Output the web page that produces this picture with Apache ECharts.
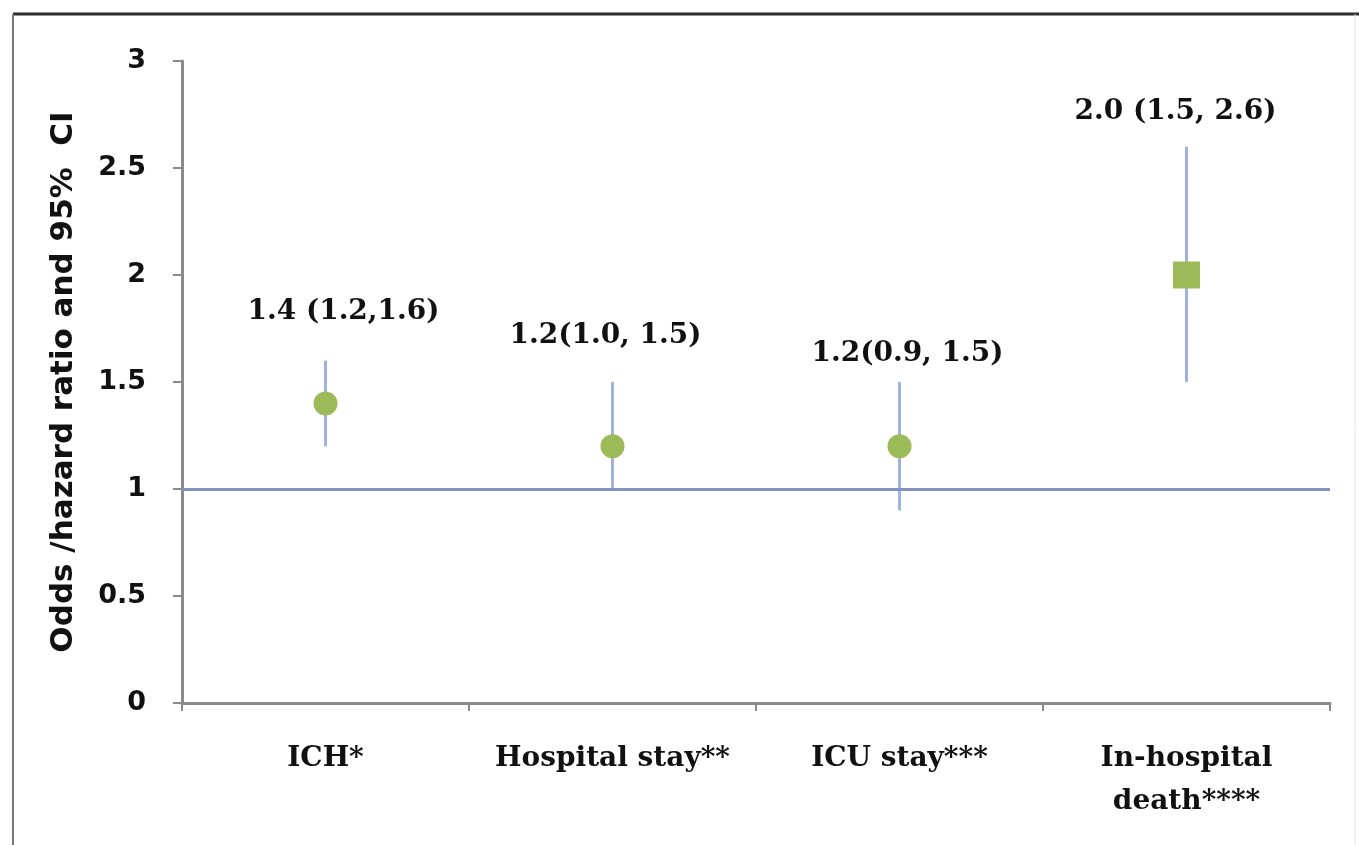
<!DOCTYPE html>
<html>
<head>
<meta charset="utf-8">
<script src="https://cdn.jsdelivr.net/npm/echarts@6/dist/echarts.min.js"></script>
<style>
  html, body { margin: 0; padding: 0; background: #fff; }
  #chart { width: 1359px; height: 845px; }
</style>
</head>
<body>
<div id="chart"></div>
<script>
// categories on the x axis
const categories = ['ICH*', 'Hospital stay**', 'ICU stay***', 'In-hospital\ndeath****'];
// point estimates with 95% CI
const estimates = [1.4, 1.2, 1.2, 2.0];
const lower = [1.2, 1.0, 0.9, 1.5];
const upper = [1.6, 1.5, 1.5, 2.6];
const pointLabels = ['1.4 (1.2,1.6)', '1.2(1.0, 1.5)', '1.2(0.9, 1.5)', '2.0 (1.5, 2.6)'];
const markerShapes = ['circle', 'circle', 'circle', 'rect'];
const refValue = 1;
const yTicks = [0, 0.5, 1, 1.5, 2, 2.5, 3];

// label nudges (px) - the annotations were hand placed in the original
const labelOffsets = [[18, -92], [-7, -110], [8, -92], [-11, -163]];

const serif = 'DejaVu Serif';
const sans = 'DejaVu Sans';

const chart = echarts.init(document.getElementById('chart'));

const errData = categories.map((c, i) => [i, lower[i], upper[i]]);
const pointData = categories.map((c, i) => ({
  value: [i, estimates[i]],
  symbol: markerShapes[i],
  symbolSize: markerShapes[i] === 'rect' ? 27 : 24,
  label: { offset: labelOffsets[i] }
}));

chart.setOption({
  animation: false,
  backgroundColor: '#fff',
  grid: { left: 182, right: 29, top: 61, bottom: 142 },
  graphic: [
    { type: 'line', shape: { x1: 13, y1: 14, x2: 1359, y2: 14 }, style: { stroke: '#2b2b2b', lineWidth: 3 } },
    { type: 'line', shape: { x1: 13, y1: 14, x2: 13, y2: 845 }, style: { stroke: '#777', lineWidth: 2 } },
    { type: 'line', shape: { x1: 1355, y1: 14, x2: 1355, y2: 845 }, style: { stroke: '#e4e4e4', lineWidth: 1 } }
  ],
  xAxis: {
    type: 'category',
    data: categories,
    boundaryGap: true,
    axisLine: { lineStyle: { color: '#8a8a8a', width: 3 } },
    axisTick: { show: true, length: 8, lineStyle: { color: '#8a8a8a', width: 2 } },
    axisLabel: {
      color: '#111', fontFamily: serif, fontWeight: 'bold', fontSize: 28,
      margin: 34, lineHeight: 43, interval: 0
    },
    splitLine: { show: false }
  },
  yAxis: {
    type: 'value',
    min: 0, max: 3, interval: 0.5,
    name: 'Odds /hazard ratio and 95%  CI',
    nameLocation: 'middle',
    nameGap: 103,
    nameTextStyle: { color: '#111', fontFamily: sans, fontWeight: 'bold', fontSize: 31 },
    axisLine: { show: true, lineStyle: { color: '#8a8a8a', width: 3 } },
    axisTick: { show: true, length: 9, lineStyle: { color: '#8a8a8a', width: 2 } },
    axisLabel: {
      color: '#111', fontFamily: sans, fontWeight: 'bold', fontSize: 27, margin: 36,
      formatter: v => yTicks.indexOf(v) >= 0 ? String(v) : ''
    },
    splitLine: { show: false }
  },
  series: [
    {
      type: 'custom',
      name: 'CI',
      data: errData,
      z: 3,
      renderItem: (params, api) => {
        const lo = api.coord([api.value(0), api.value(1)]);
        const hi = api.coord([api.value(0), api.value(2)]);
        return {
          type: 'line',
          shape: { x1: lo[0], y1: lo[1], x2: hi[0], y2: hi[1] },
          style: { stroke: '#9fb3dc', lineWidth: 3 }
        };
      },
      markLine: {
        silent: true,
        symbol: 'none',
        label: { show: false },
        lineStyle: { color: '#7f92c2', width: 3, type: 'solid' },
        data: [{ yAxis: refValue }]
      }
    },
    {
      type: 'scatter',
      name: 'Estimate',
      data: pointData,
      z: 4,
      itemStyle: { color: '#9bbb59', opacity: 1 },
      label: {
        show: true,
        position: 'inside',
        color: '#111',
        fontFamily: serif,
        fontWeight: 'bold',
        fontSize: 28,
        formatter: p => pointLabels[p.dataIndex]
      }
    }
  ]
});
</script>
</body>
</html>
